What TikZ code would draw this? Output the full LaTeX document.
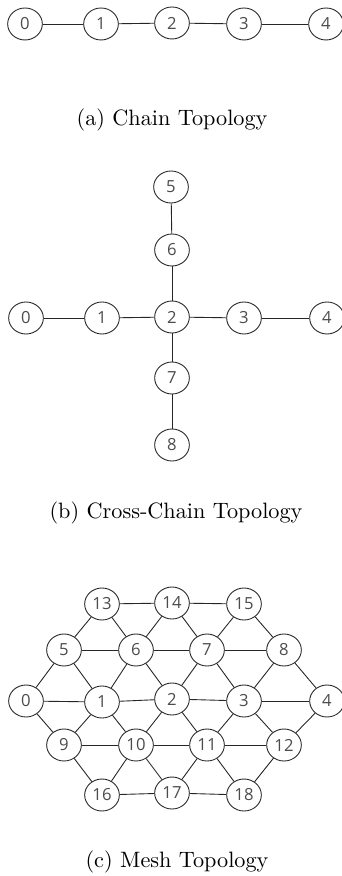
\documentclass[tikz,border=0pt]{standalone}
\usepackage{fontspec}
\newfontfamily\nodefont{Open Sans}
\usetikzlibrary{shapes.geometric}

\begin{document}
\begin{tikzpicture}[x=0.45pt,y=-0.45pt,thin,draw=black!85]
		\tikzstyle{vertex}=[draw,ellipse,inner sep=0pt,minimum width=15.6pt,
		minimum height=14.4pt,font=\nodefont\fontsize{7.5}{8}\selectfont,text=black!70]
		\tikzstyle{caption}=[font=\normalsize]
		
		\useasboundingbox (0,0) rectangle (342,876);
		
		% (a) chain
		\node[vertex] (A0) at (25,24)  {0};
		\node[vertex] (A1) at (101,24) {1};
		\node[vertex] (A2) at (172,23) {2};
		\node[vertex] (A3) at (244,24) {3};
		\node[vertex] (A4) at (326,24) {4};
		\node[caption] (capA) at (172,120) {(a) Chain Topology};
		
		\path
		(A0) edge (A1)
		(A1) edge (A2)
		(A2) edge (A3)
		(A3) edge (A4);
		
		% (b) cross-chain
		\node[vertex] (B5) at (171,187) {5};
		\node[vertex] (B6) at (172,250) {6};
		\node[vertex] (B0) at (26,318)  {0};
		\node[vertex] (B1) at (102,318) {1};
		\node[vertex] (B2) at (172,317) {2};
		\node[vertex] (B3) at (244,318) {3};
		\node[vertex] (B4) at (327,318) {4};
		\node[vertex] (B7) at (172,378) {7};
		\node[vertex] (B8) at (172,445) {8};
		\node[caption] (capB) at (176,513) {(b) Cross-Chain Topology};
		
		\path
		(B0) edge (B1)
		(B1) edge (B2)
		(B2) edge (B3)
		(B3) edge (B4)
		(B5) edge (B6)
		(B6) edge (B2)
		(B2) edge (B7)
		(B7) edge (B8);
		
		% (c) mesh
		\node[vertex] (C13) at (102,604) {13};
		\node[vertex] (C14) at (172,603) {14};
		\node[vertex] (C15) at (244,604) {15};
		\node[vertex] (C5)  at (64,650)  {5};
		\node[vertex] (C6)  at (136,650) {6};
		\node[vertex] (C7)  at (207,650) {7};
		\node[vertex] (C8)  at (284,650) {8};
		\node[vertex] (C0)  at (26,701)  {0};
		\node[vertex] (C1)  at (102,702) {1};
		\node[vertex] (C2)  at (172,699) {2};
		\node[vertex] (C3)  at (244,701) {3};
		\node[vertex] (C4)  at (327,701) {4};
		\node[vertex] (C9)  at (64,745)  {9};
		\node[vertex] (C10) at (136,745) {10};
		\node[vertex] (C11) at (207,745) {11};
		\node[vertex] (C12) at (284,745) {12};
		\node[vertex] (C16) at (102,795) {16};
		\node[vertex] (C17) at (172,793) {17};
		\node[vertex] (C18) at (244,795) {18};
		\node[caption] (capC) at (177,862) {(c) Mesh Topology};
		
		\path
		(C13) edge (C14) (C14) edge (C15)
		(C5) edge (C6) (C6) edge (C7) (C7) edge (C8)
		(C0) edge (C1) (C1) edge (C2) (C2) edge (C3) (C3) edge (C4)
		(C9) edge (C10) (C10) edge (C11) (C11) edge (C12)
		(C16) edge (C17) (C17) edge (C18)
		(C13) edge (C5) (C13) edge (C6) (C14) edge (C6) (C14) edge (C7)
		(C15) edge (C7) (C15) edge (C8)
		(C5) edge (C0) (C5) edge (C1) (C6) edge (C1) (C6) edge (C2)
		(C7) edge (C2) (C7) edge (C3) (C8) edge (C3) (C8) edge (C4)
		(C0) edge (C9) (C1) edge (C9) (C1) edge (C10) (C2) edge (C10)
		(C2) edge (C11) (C3) edge (C11) (C3) edge (C12) (C4) edge (C12)
		(C9) edge (C16) (C10) edge (C16) (C10) edge (C17)
		(C11) edge (C17) (C11) edge (C18) (C12) edge (C18);
	\end{tikzpicture}
\end{document}
